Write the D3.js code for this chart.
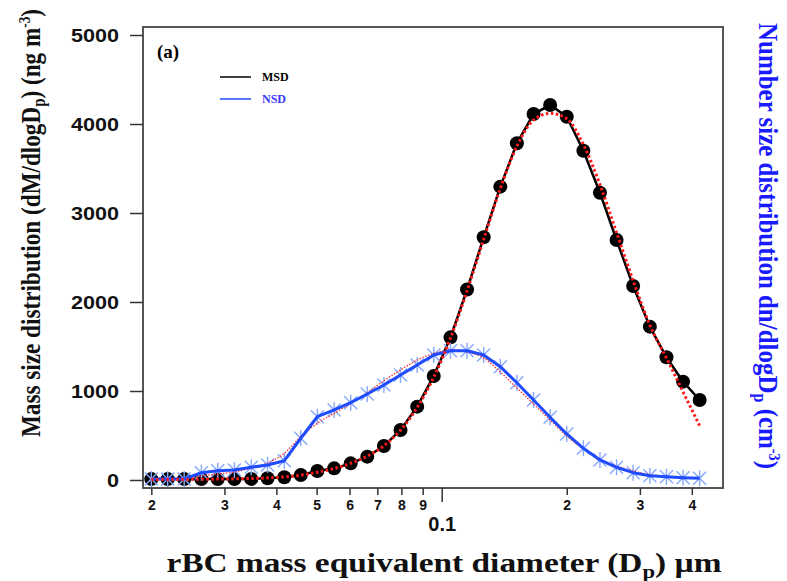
<!DOCTYPE html>
<html>
<head>
<meta charset="utf-8">
<script src="https://cdn.jsdelivr.net/npm/d3@7"></script>
<style>
  body { margin: 0; background: #fff; }
  svg { display: block; }
</style>
</head>
<body>
<div id="chart"></div>
<script>
// diameters (um), log-spaced SP2 bins
const diameters = [0.0200, 0.0219, 0.0240, 0.0264, 0.0289, 0.0317, 0.0348, 0.0381, 0.0418, 0.0458,
  0.0502, 0.0551, 0.0604, 0.0662, 0.0726, 0.0796, 0.0873, 0.0957, 0.1050, 0.1151,
  0.1262, 0.1384, 0.1517, 0.1664, 0.1824, 0.2000, 0.2193, 0.2404, 0.2636, 0.2890,
  0.3170, 0.3476, 0.3811, 0.4178];

// mass size distribution (ng m-3)
const msd = [10, 10, 10, 10, 10, 10, 12, 19, 30, 56,
  101, 131, 187, 262, 382, 562, 824, 1169, 1603, 2140,
  2727, 3296, 3783, 4112, 4213, 4082, 3700, 3228, 2697, 2180,
  1723, 1379, 1105, 899];

// lognormal fit of MSD (red dotted)
const msdFit = [5, 5, 6, 8, 10, 13, 17, 24, 35, 55,
  88, 128, 188, 268, 385, 560, 815, 1155, 1595, 2125,
  2705, 3275, 3750, 4045, 4120, 4060, 3770, 3320, 2780, 2240,
  1740, 1370, 990, 610];

// number size distribution (plotted on the unticked right axis, same pixel scale)
const nsd = [11, 11, 11, 82, 104, 112, 143, 169, 217, 469,
  711, 787, 869, 966, 1067, 1180, 1292, 1404, 1453, 1453,
  1404, 1273, 1093, 899, 704, 517, 356, 225, 143, 82,
  48, 37, 26, 19];

const nsdFit = [11, 14, 20, 45, 67, 90, 135, 191, 300, 487,
  637, 749, 861, 981, 1116, 1236, 1348, 1423, 1461, 1438,
  1370, 1213, 1034, 854, 674, 494, 348, 236, 157, 101,
  62, 39, 28, 22];

const minorTicks = [0.02, 0.03, 0.04, 0.05, 0.06, 0.07, 0.08, 0.09, 0.2, 0.3, 0.4];
const majorTicks = [0.1];
const yTicks = [0, 1000, 2000, 3000, 4000, 5000];

const width = 787;
const height = 581;
const margin = { top: 27, right: 64, bottom: 93, left: 143 };
const innerWidth = width - margin.left - margin.right;
const innerHeight = height - margin.top - margin.bottom;

const xScale = d3.scaleLog()
  .domain([0.0191, 0.4755])
  .range([0, innerWidth]);

const yScale = d3.scaleLinear()
  .domain([-90, 5090])
  .range([innerHeight, 0]);

// right axis has no ticks in the original; NSD is drawn on the same pixel scale
const yRight = d3.scaleLinear()
  .domain([-90, 5090])
  .range([innerHeight, 0]);

const serif = "'Liberation Serif', 'Times New Roman', serif";
const sans = "'Liberation Sans', Arial, sans-serif";

const svg = d3.select("#chart")
  .append("svg")
    .attr("width", width)
    .attr("height", height);

const inner = svg.append("g")
  .attr("transform", `translate(${margin.left}, ${margin.top})`);

const msdData = diameters.map((d, i) => ({ d, v: msd[i], f: msdFit[i] }));
const nsdData = diameters.map((d, i) => ({ d, v: nsd[i], f: nsdFit[i] }));

// MSD line + circles
inner.append("path")
  .datum(msdData)
  .attr("fill", "none")
  .attr("stroke", "#000")
  .attr("stroke-width", 2.5)
  .attr("d", d3.line().x((p) => xScale(p.d)).y((p) => yScale(p.v)));

inner.selectAll(".msd-dot")
  .data(msdData)
  .join("circle")
    .attr("class", "msd-dot")
    .attr("cx", (p) => xScale(p.d))
    .attr("cy", (p) => yScale(p.v))
    .attr("r", 7)
    .attr("fill", "#000");

// NSD asterisks
inner.selectAll(".nsd-mark")
  .data(nsdData)
  .join("path")
    .attr("class", "nsd-mark")
    .attr("transform", (p) => `translate(${xScale(p.d)}, ${yRight(p.v)})`)
    .attr("d", "M-6.5,-6.5L6.5,6.5M-6.5,6.5L6.5,-6.5M0,-8L0,8")
    .attr("stroke", "#86a8ff")
    .attr("stroke-width", 1.4)
    .attr("fill", "none");

// NSD fit
inner.append("path")
  .datum(nsdData)
  .attr("fill", "none")
  .attr("stroke", "#ff3030")
  .attr("stroke-width", 1.3)
  .attr("stroke-dasharray", "1.5,1.5")
  .attr("d", d3.line().curve(d3.curveMonotoneX).x((p) => xScale(p.d)).y((p) => yRight(p.f)));

// NSD line
inner.append("path")
  .datum(nsdData)
  .attr("fill", "none")
  .attr("stroke", "#1f4bff")
  .attr("stroke-width", 3)
  .attr("stroke-linejoin", "round")
  .attr("d", d3.line().x((p) => xScale(p.d)).y((p) => yRight(p.v)));

// MSD fit on top
inner.append("path")
  .datum(msdData)
  .attr("fill", "none")
  .attr("stroke", "#ff1a1a")
  .attr("stroke-width", 3)
  .attr("stroke-dasharray", "2.5,2.5")
  .attr("d", d3.line().curve(d3.curveMonotoneX).x((p) => xScale(p.d)).y((p) => yScale(p.f)));

// frame
inner.append("rect")
  .attr("width", innerWidth)
  .attr("height", innerHeight)
  .attr("fill", "none")
  .attr("stroke", "#555")
  .attr("stroke-width", 2);

// y axis
const yAxis = inner.append("g")
  .call(d3.axisLeft(yScale).tickValues(yTicks).tickSize(13).tickPadding(11).tickFormat(d3.format("d")));
yAxis.select(".domain").remove();
yAxis.selectAll("line").attr("stroke", "#333").attr("stroke-width", 1.5);
yAxis.selectAll("text")
  .attr("font-family", sans)
  .attr("font-weight", "bold")
  .attr("font-size", 19)
  .attr("fill", "#111")
  .attr("textLength", (d) => String(d).length * 12)
  .attr("lengthAdjust", "spacingAndGlyphs");

// x axis, minor digits
const xMinor = inner.append("g")
  .attr("transform", `translate(0, ${innerHeight})`)
  .call(d3.axisBottom(xScale).tickValues(minorTicks).tickSize(7).tickPadding(5)
    .tickFormat((d) => String(Math.round(d / Math.pow(10, Math.floor(Math.log10(d) + 1e-9))))));
xMinor.select(".domain").remove();
xMinor.selectAll("line").attr("stroke", "#333").attr("stroke-width", 1.5);
xMinor.selectAll("text")
  .attr("font-family", sans)
  .attr("font-weight", "bold")
  .attr("font-size", 14)
  .attr("fill", "#111");

// x axis, decade
const xMajor = inner.append("g")
  .attr("transform", `translate(0, ${innerHeight})`)
  .call(d3.axisBottom(xScale).tickValues(majorTicks).tickSize(14).tickPadding(15).tickFormat((d) => String(d)));
xMajor.select(".domain").remove();
xMajor.selectAll("line").attr("stroke", "#333").attr("stroke-width", 1.5);
xMajor.selectAll("text")
  .attr("font-family", sans)
  .attr("font-weight", "bold")
  .attr("font-size", 20)
  .attr("fill", "#111");

// panel tag
svg.append("text")
  .attr("x", 157)
  .attr("y", 58)
  .attr("font-family", serif)
  .attr("font-weight", "bold")
  .attr("font-size", 19)
  .text("(a)");

// legend
const legend = svg.append("g");
const legendItems = [
  { name: "MSD", color: "#000", text: "#000", y: 77 },
  { name: "NSD", color: "#1f4bff", text: "#3a3aff", y: 99 },
];
legendItems.forEach((it) => {
  legend.append("line")
    .attr("x1", 220).attr("x2", 251)
    .attr("y1", it.y).attr("y2", it.y)
    .attr("stroke", it.color)
    .attr("stroke-width", 1.5);
  legend.append("text")
    .attr("x", 262)
    .attr("y", it.y + 4)
    .attr("font-family", serif)
    .attr("font-weight", "bold")
    .attr("font-size", 12)
    .attr("fill", it.text)
    .text(it.name);
});

// x title
const xTitle = svg.append("text")
  .attr("x", 444)
  .attr("y", 572)
  .attr("text-anchor", "middle")
  .attr("font-family", serif)
  .attr("font-weight", "bold")
  .attr("font-size", 28)
  .attr("fill", "#111")
  .attr("textLength", 555)
  .attr("lengthAdjust", "spacingAndGlyphs");
xTitle.append("tspan").text("rBC mass equivalent diameter (D");
xTitle.append("tspan").attr("font-size", 19).attr("dy", 6).text("p");
xTitle.append("tspan").attr("dy", -6).text(") µm");

// left y title
const yTitle = svg.append("text")
  .attr("transform", "translate(40, 223) rotate(-90)")
  .attr("text-anchor", "middle")
  .attr("font-family", serif)
  .attr("font-weight", "bold")
  .attr("font-size", 28)
  .attr("fill", "#111")
  .attr("textLength", 428)
  .attr("lengthAdjust", "spacingAndGlyphs");
yTitle.append("tspan").text("Mass size distribution (dM/dlogD");
yTitle.append("tspan").attr("font-size", 18).attr("dy", 5).text("p");
yTitle.append("tspan").attr("dy", -5).text(") (ng m");
yTitle.append("tspan").attr("font-size", 16).attr("dy", -10).text("-3");
yTitle.append("tspan").attr("dy", 10).text(")");

// right y title
const rTitle = svg.append("text")
  .attr("transform", "translate(759, 246) rotate(90)")
  .attr("text-anchor", "middle")
  .attr("font-family", serif)
  .attr("font-weight", "bold")
  .attr("font-size", 28)
  .attr("fill", "#1a1aff")
  .attr("textLength", 446)
  .attr("lengthAdjust", "spacingAndGlyphs");
rTitle.append("tspan").text("Number size distribution dn/dlogD");
rTitle.append("tspan").attr("font-size", 18).attr("dy", 5).text("p");
rTitle.append("tspan").attr("dy", -5).text(" (cm");
rTitle.append("tspan").attr("font-size", 16).attr("dy", -10).text("-3");
rTitle.append("tspan").attr("dy", 10).text(")");
</script>
</body>
</html>
